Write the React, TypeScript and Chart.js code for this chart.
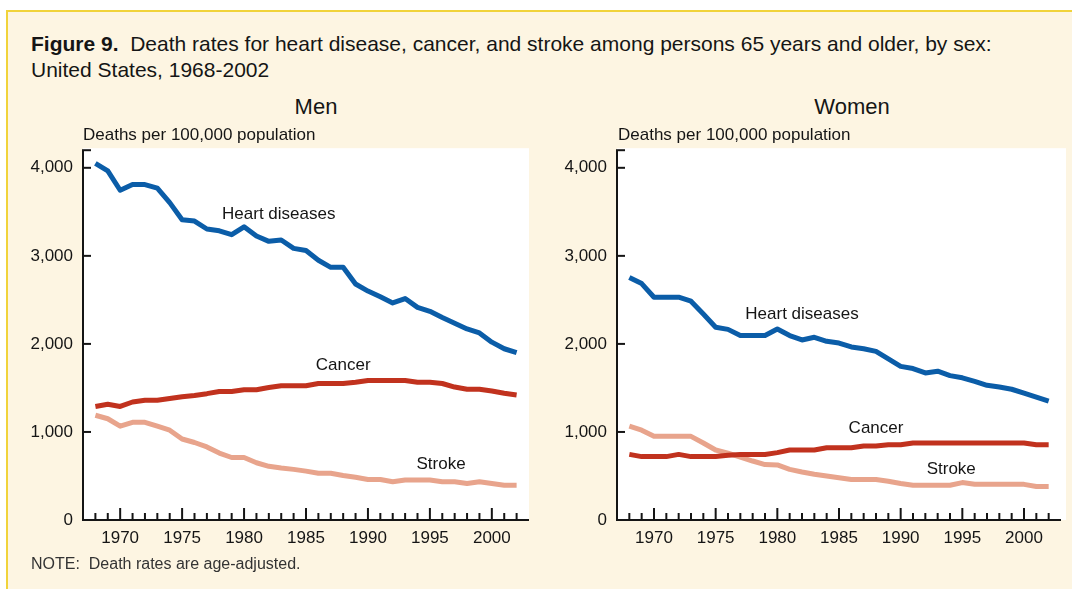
import React, { useEffect, useRef } from 'react';
import { Chart, registerables } from 'chart.js';

Chart.register(...registerables);

const FONT = '"Liberation Sans", Arial, Helvetica, sans-serif';

const years = [
  1968, 1969, 1970, 1971, 1972, 1973, 1974, 1975, 1976, 1977,
  1978, 1979, 1980, 1981, 1982, 1983, 1984, 1985, 1986, 1987,
  1988, 1989, 1990, 1991, 1992, 1993, 1994, 1995, 1996, 1997,
  1998, 1999, 2000, 2001, 2002,
];

const menHeart = [
  4050, 3965, 3745, 3810, 3810, 3770, 3605, 3410, 3395, 3305,
  3285, 3240, 3330, 3225, 3165, 3180, 3085, 3060, 2950, 2870,
  2870, 2680, 2600, 2535, 2465, 2515, 2415, 2370, 2300, 2235,
  2170, 2125, 2020, 1945, 1900,
];
const menCancer = [
  1290, 1315, 1290, 1340, 1360, 1360, 1380, 1400, 1415, 1435,
  1460, 1460, 1480, 1480, 1505, 1525, 1525, 1525, 1550, 1550,
  1550, 1565, 1585, 1585, 1585, 1585, 1565, 1565, 1550, 1510,
  1485, 1485, 1465, 1440, 1420,
];
const menStroke = [
  1190, 1150, 1065, 1110, 1110, 1065, 1020, 920, 880, 830,
  760, 710, 710, 650, 610, 590, 575, 555, 530, 530,
  505, 485, 460, 460, 435, 455, 455, 455, 435, 435,
  415, 435, 415, 395, 395,
];

const womenHeart = [
  2755, 2685, 2530, 2530, 2530, 2485, 2340, 2190, 2165, 2095,
  2095, 2095, 2170, 2095, 2045, 2075, 2030, 2010, 1965, 1945,
  1915, 1830, 1745, 1720, 1670, 1690, 1640, 1615, 1575, 1530,
  1510, 1485, 1440, 1395, 1350,
];
const womenCancer = [
  745, 720, 720, 720, 745, 720, 720, 720, 735, 745,
  745, 745, 765, 795, 795, 795, 820, 820, 820, 840,
  840, 855, 855, 875, 875, 875, 875, 875, 875, 875,
  875, 875, 875, 855, 855,
];
const womenStroke = [
  1065, 1020, 950, 950, 950, 950, 875, 795, 760, 715,
  670, 630, 625, 575, 545, 520, 500, 480, 460, 460,
  460, 440, 415, 395, 395, 395, 395, 425, 405, 405,
  405, 405, 405, 380, 380,
];

const yTickValues = [0, 1000, 2000, 3000, 4000, 4200];
const seriesNames = ['Heart diseases', 'Cancer', 'Stroke'];
const seriesColors = ['#0B5DA8', '#C1321E', '#E8A48C'];

// label anchor positions in data units: [year, value]
const menLabelAnchors = [[1982.8, 3477], [1988.0, 1755], [1995.9, 634]];
const womenLabelAnchors = [[1982.0, 2333], [1988.0, 1042], [1994.1, 578]];

const X_MIN = 1967;
const X_MAX = 2003;
const Y_MIN = 0;
const Y_MAX = 4200;

const INK = '#151515';

function makePlugin(anchors: number[][], extraRight: number) {
  return {
    id: 'panelDecor',
    beforeDraw(chart: any) {
      const { ctx, chartArea: a } = chart;
      ctx.save();
      ctx.fillStyle = '#ffffff';
      ctx.fillRect(a.left, a.top - 2, a.right - a.left + extraRight, a.bottom - a.top + 2);
      ctx.restore();
    },
    afterDatasetsDraw(chart: any) {
      const { ctx, chartArea: a } = chart;
      const xs = chart.scales.x;
      const ys = chart.scales.y;
      ctx.save();
      ctx.strokeStyle = INK;
      ctx.lineWidth = 2;
      ctx.lineCap = 'butt';
      // axes
      ctx.beginPath();
      ctx.moveTo(a.left, a.top);
      ctx.lineTo(a.left, a.bottom);
      ctx.lineTo(a.right, a.bottom);
      ctx.stroke();
      // y ticks (inward)
      ys.ticks.forEach((t: any) => {
        const py = ys.getPixelForValue(t.value);
        if (t.value === Y_MIN) return;
        ctx.beginPath();
        ctx.moveTo(a.left - 1, py);
        ctx.lineTo(a.left + 8, py);
        ctx.stroke();
      });
      // x ticks (inward)
      xs.ticks.forEach((t: any) => {
        const v = t.value;
        if (v <= X_MIN || v >= X_MAX) return;
        const px = xs.getPixelForValue(v);
        const len = v % 5 === 0 ? 12 : 7;
        ctx.beginPath();
        ctx.moveTo(px, a.bottom);
        ctx.lineTo(px, a.bottom - len);
        ctx.stroke();
      });
      // series labels
      ctx.fillStyle = INK;
      ctx.font = `17px ${FONT}`;
      ctx.textAlign = 'center';
      ctx.textBaseline = 'middle';
      anchors.forEach((p, i) => {
        ctx.fillText(seriesNames[i], xs.getPixelForValue(p[0]), ys.getPixelForValue(p[1]));
      });
      ctx.restore();
    },
  };
}

function buildConfig(
  series: number[][],
  anchors: number[][],
  yWidth: number,
  padRight: number,
  extraRight: number,
): any {
  return {
    type: 'line',
    data: {
      datasets: series.map((vals, i) => ({
        label: seriesNames[i],
        data: years.map((yr, j) => ({ x: yr, y: vals[j] })),
        borderColor: seriesColors[i],
        backgroundColor: seriesColors[i],
        borderWidth: 5,
        pointRadius: 0,
        tension: 0,
        fill: false,
        borderJoinStyle: 'round',
      })),
    },
    options: {
      responsive: false,
      animation: false,
      devicePixelRatio: 1,
      layout: { padding: { top: 19, right: padRight, bottom: 0, left: 0 } },
      plugins: {
        legend: { display: false },
        tooltip: { enabled: false },
        title: { display: false },
      },
      scales: {
        x: {
          type: 'linear',
          min: X_MIN,
          max: X_MAX,
          grid: { display: false, drawTicks: false },
          border: { display: false },
          ticks: {
            stepSize: 1,
            autoSkip: false,
            maxRotation: 0,
            padding: 8,
            color: INK,
            font: { family: FONT, size: 17 },
            callback: (v: number) => (v % 5 === 0 && v > X_MIN && v < X_MAX ? String(v) : ''),
          },
          afterFit: (s: any) => { s.height = 40; },
        },
        y: {
          type: 'linear',
          min: Y_MIN,
          max: Y_MAX,
          grid: { display: false, drawTicks: false },
          border: { display: false },
          afterBuildTicks: (s: any) => { s.ticks = yTickValues.map((v) => ({ value: v })); },
          ticks: {
            padding: 10,
            color: INK,
            font: { family: FONT, size: 17 },
            callback: (v: number) => (v === Y_MAX ? '' : v.toLocaleString('en-US')),
          },
          afterFit: (s: any) => { s.width = yWidth; },
        },
      },
    },
    plugins: [makePlugin(anchors, extraRight)],
  };
}

function Panel(props: {
  left: number; width: number; series: number[][]; anchors: number[][];
  yWidth: number; padRight: number; extraRight: number;
}) {
  const ref = useRef<HTMLCanvasElement>(null);
  useEffect(() => {
    if (!ref.current) return;
    const chart = new Chart(
      ref.current,
      buildConfig(props.series, props.anchors, props.yWidth, props.padRight, props.extraRight),
    );
    return () => chart.destroy();
  }, []);
  return (
    <canvas
      ref={ref}
      width={props.width}
      height={430}
      style={{ position: 'absolute', left: props.left, top: 130, width: props.width, height: 430 }}
    />
  );
}

export default function App() {
  useEffect(() => {
    document.body.style.margin = '0';
  }, []);
  const text = { position: 'absolute' as const, fontFamily: FONT, color: INK, whiteSpace: 'nowrap' as const };
  return (
    <div style={{ position: 'fixed', left: 0, top: 0, width: 1072, height: 589, background: '#ffffff', overflow: 'hidden' }}>
      <div
        style={{
          position: 'absolute', left: 6, top: 10, width: 1100, height: 620,
          background: '#FDF5E2', borderTop: '2px solid #F1D33A', borderLeft: '2px solid #F1D33A',
        }}
      />
      <Panel left={0} width={545} series={[menHeart, menCancer, menStroke]} anchors={menLabelAnchors}
        yWidth={83} padRight={16} extraRight={0} />
      <Panel left={535} width={537} series={[womenHeart, womenCancer, womenStroke]} anchors={womenLabelAnchors}
        yWidth={82} padRight={11} extraRight={5} />
      <div style={{ ...text, left: 31, top: 31, fontSize: 21, lineHeight: '26px' }}>
        <b>Figure 9.</b>&nbsp; Death rates for heart disease, cancer, and stroke among persons 65 years and older, by sex:
        <br />
        United States, 1968-2002
      </div>
      <div style={{ ...text, left: 216, width: 200, textAlign: 'center', top: 94, fontSize: 22, lineHeight: '26px' }}>Men</div>
      <div style={{ ...text, left: 752, width: 200, textAlign: 'center', top: 94, fontSize: 22, lineHeight: '26px' }}>Women</div>
      <div style={{ ...text, left: 83, top: 125, fontSize: 17, lineHeight: '20px' }}>Deaths per 100,000 population</div>
      <div style={{ ...text, left: 618, top: 125, fontSize: 17, lineHeight: '20px' }}>Deaths per 100,000 population</div>
      <div style={{ ...text, left: 31, top: 554, fontSize: 16, lineHeight: '20px', color: '#333' }}>
        NOTE:&nbsp; Death rates are age-adjusted.
      </div>
    </div>
  );
}
